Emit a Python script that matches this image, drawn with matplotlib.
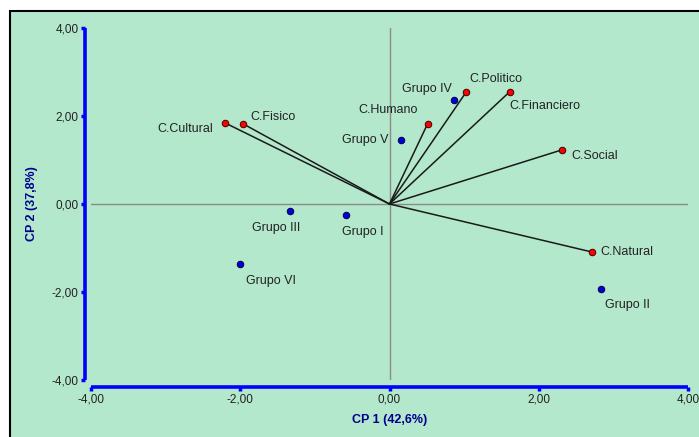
import matplotlib
matplotlib.use('Agg')
import matplotlib.pyplot as plt
from matplotlib.patches import Rectangle

plt.rcParams['font.family'] = ['Liberation Sans', 'DejaVu Sans']

# variables (vectors from the origin)
var_names = ['C.Cultural', 'C.Fisico', 'C.Humano', 'C.Politico', 'C.Financiero', 'C.Social', 'C.Natural']
var_x = [-2.20, -1.96, 0.51, 1.03, 1.61, 2.31, 2.71]
var_y = [1.84, 1.82, 1.82, 2.55, 2.55, 1.23, -1.09]

# groups
grp_names = ['Grupo I', 'Grupo II', 'Grupo III', 'Grupo IV', 'Grupo V', 'Grupo VI']
grp_x = [-0.58, 2.83, -1.34, 0.87, 0.16, -2.00]
grp_y = [-0.25, -1.93, -0.16, 2.36, 1.45, -1.36]

ticks = [-4, -2, 0, 2, 4]
tick_labels = ['-4,00', '-2,00', '0,00', '2,00', '4,00']

# label offsets in points (dx, dy, ha, va)
var_lab = {
    'C.Cultural': (-9, 0, 'right', 'top'),
    'C.Fisico': (5, 1, 'left', 'bottom'),
    'C.Humano': (-7, 6, 'right', 'bottom'),
    'C.Politico': (2, 5, 'left', 'bottom'),
    'C.Financiero': (0, -6, 'left', 'top'),
    'C.Social': (7, 0, 'left', 'top'),
    'C.Natural': (6, 0, 'left', 'center'),
}
grp_lab = {
    'Grupo I': (-3, -8, 'left', 'top'),
    'Grupo II': (3, -7, 'left', 'top'),
    'Grupo III': (-27, -8, 'left', 'top'),
    'Grupo IV': (-38, 4, 'left', 'bottom'),
    'Grupo V': (-9, 0, 'right', 'center'),
    'Grupo VI': (4, -8, 'left', 'top'),
}

bg = '#b4e8cc'
W, H = 699, 437
fig = plt.figure(figsize=(6.99, 4.37), dpi=100)
fig.patch.set_facecolor('white')
fig.patches.append(Rectangle((10 / W, -0.05), 1.1, 1 - 11 / H + 0.05,
                             transform=fig.transFigure, facecolor=bg,
                             edgecolor='black', linewidth=1.5, zorder=-10))

ax = fig.add_axes([91 / W, 1 - 380 / H, 597 / W, 352 / H])
ax.set_facecolor('none')
ax.set_xlim(-4, 4)
ax.set_ylim(-4, 4)

ax.axhline(0, color='#8a8a8a', lw=1, zorder=1)
ax.axvline(0, color='#8a8a8a', lw=1, zorder=1)

for x, y in zip(var_x, var_y):
    ax.plot([0, x], [0, y], color='#1a1a1a', lw=1.1, zorder=2)
ax.scatter(var_x, var_y, s=22, color='#ff0000', edgecolor='#400000', linewidth=0.7, zorder=3)
ax.scatter(grp_x, grp_y, s=22, color='#0000dd', edgecolor='#000040', linewidth=0.7, zorder=3)

for n, x, y in zip(var_names, var_x, var_y):
    dx, dy, ha, va = var_lab[n]
    ax.annotate(n, (x, y), xytext=(dx, dy), textcoords='offset points',
                ha=ha, va=va, fontsize=9, color='#222222')
for n, x, y in zip(grp_names, grp_x, grp_y):
    dx, dy, ha, va = grp_lab[n]
    ax.annotate(n, (x, y), xytext=(dx, dy), textcoords='offset points',
                ha=ha, va=va, fontsize=9, color='#222222')

for s in ['top', 'right']:
    ax.spines[s].set_visible(False)
ax.spines['left'].set_position(('outward', 4))
ax.spines['bottom'].set_position(('outward', 5))
for s in ['left', 'bottom']:
    ax.spines[s].set_color('#0000ff')
    ax.spines[s].set_linewidth(2.6)
    ax.spines[s].set_capstyle('butt')

ax.set_xticks(ticks)
ax.set_xticklabels(tick_labels)
ax.set_yticks(ticks)
ax.set_yticklabels(tick_labels)
ax.tick_params(colors='#0000ff', labelcolor='#222222', labelsize=8.5,
               direction='out', length=3, width=2.5, pad=2)

ax.set_xlabel('CP 1 (42,6%)', fontsize=9, fontweight='bold', color='#00008b', labelpad=6)
ax.set_ylabel('CP 2 (37,8%)', fontsize=9, fontweight='bold', color='#00008b', labelpad=10)

fig.savefig('out.png', dpi=100, facecolor=fig.get_facecolor())
